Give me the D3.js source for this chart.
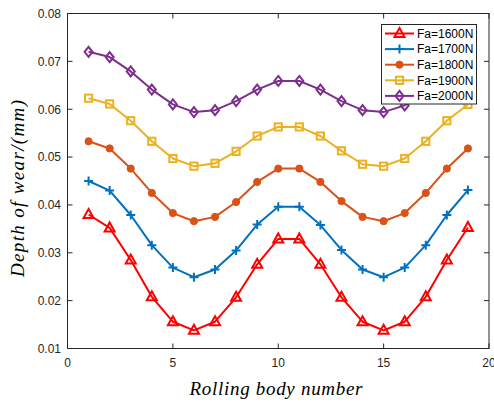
<!DOCTYPE html>
<html>
<head>
<meta charset="utf-8">
<script src="https://cdn.jsdelivr.net/npm/d3@7"></script>
<style>
  body { margin: 0; background: #fff; }
  svg { display: block; }
</style>
</head>
<body>
<div id="chart"></div>
<script>
// rolling body index 1..19
const bodies = d3.range(1, 20)
const xTicks = [0, 5, 10, 15, 20]
const yTicks = [0.01, 0.02, 0.03, 0.04, 0.05, 0.06, 0.07, 0.08]
const seriesNames = ["Fa=1600N", "Fa=1700N", "Fa=1800N", "Fa=1900N", "Fa=2000N"]

const wear1600 = [0.0380, 0.0352, 0.0285, 0.0208, 0.0156, 0.0138, 0.0156, 0.0207, 0.0276, 0.0329, 0.0329, 0.0276, 0.0207, 0.0156, 0.0138, 0.0156, 0.0208, 0.0285, 0.0353]
const wear1700 = [0.0450, 0.0430, 0.0379, 0.0316, 0.0269, 0.0249, 0.0265, 0.0305, 0.0359, 0.0396, 0.0396, 0.0358, 0.0306, 0.0265, 0.0249, 0.0269, 0.0316, 0.0379, 0.0431]
const wear1800 = [0.0533, 0.0518, 0.0476, 0.0425, 0.0383, 0.0366, 0.0375, 0.0406, 0.0448, 0.0476, 0.0476, 0.0448, 0.0408, 0.0375, 0.0366, 0.0383, 0.0425, 0.0476, 0.0518]
const wear1900 = [0.0623, 0.0611, 0.0576, 0.0533, 0.0497, 0.0481, 0.0487, 0.0512, 0.0544, 0.0563, 0.0563, 0.0544, 0.0513, 0.0485, 0.0481, 0.0497, 0.0533, 0.0576, 0.0610]
const wear2000 = [0.0720, 0.0709, 0.0679, 0.0641, 0.0610, 0.0594, 0.0598, 0.0617, 0.0641, 0.0659, 0.0659, 0.0641, 0.0617, 0.0598, 0.0594, 0.0608, 0.0641, 0.0679, 0.0709]

const colors = ["#FF0000", "#0072BD", "#D95319", "#EDB120", "#7E2F8E"]
const markers = ["triangle", "plus", "circle", "square", "diamond"]
const allSeries = [wear1600, wear1700, wear1800, wear1900, wear2000]

const W = 494, H = 403
const plotL = 67.5, plotR = 489, plotT = 13.5, plotB = 348.5
const axisColor = "#262626"

const svg = d3.select("#chart").append("svg")
    .attr("width", W)
    .attr("height", H)

const x = d3.scaleLinear().domain([0, 20]).range([plotL, plotR])
const y = d3.scaleLinear().domain([0.01, 0.08]).range([plotB, plotT])

// tick marks pointing inward, on all four sides
const tickLen = 5
const ticksG = svg.append("g").attr("stroke", axisColor).attr("stroke-width", 1)
xTicks.forEach(t => {
    ticksG.append("line").attr("x1", x(t)).attr("x2", x(t)).attr("y1", plotB).attr("y2", plotB - tickLen)
    ticksG.append("line").attr("x1", x(t)).attr("x2", x(t)).attr("y1", plotT).attr("y2", plotT + tickLen)
})
yTicks.forEach(t => {
    ticksG.append("line").attr("x1", plotL).attr("x2", plotL + tickLen).attr("y1", y(t)).attr("y2", y(t))
    ticksG.append("line").attr("x1", plotR).attr("x2", plotR - tickLen).attr("y1", y(t)).attr("y2", y(t))
})

// tick labels
const tickFont = "'Liberation Sans', Arial, sans-serif"
svg.append("g").selectAll("text")
    .data(xTicks)
    .enter()
    .append("text")
    .attr("x", d => x(d))
    .attr("y", 367)
    .attr("text-anchor", "middle")
    .attr("font-family", tickFont)
    .attr("font-size", 12)
    .attr("fill", axisColor)
    .text(d => d)

svg.append("g").selectAll("text")
    .data(yTicks)
    .enter()
    .append("text")
    .attr("x", 61)
    .attr("y", d => y(d) + 4.3)
    .attr("text-anchor", "end")
    .attr("font-family", tickFont)
    .attr("font-size", 12)
    .attr("fill", axisColor)
    .text(d => d3.format(".2f")(d))

// axis titles (latex-style italic, letter-spaced to the reference width)
const titleFont = "'Liberation Serif', 'Times New Roman', serif"
svg.append("text")
    .attr("x", 276)
    .attr("y", 395)
    .attr("text-anchor", "middle")
    .attr("font-family", titleFont)
    .attr("font-style", "italic")
    .attr("font-size", 19)
    .attr("textLength", 173)
    .attr("lengthAdjust", "spacing")
    .attr("fill", "#000")
    .text("Rolling body number")

svg.append("text")
    .attr("transform", "translate(24,188.5) rotate(-90)")
    .attr("text-anchor", "middle")
    .attr("font-family", titleFont)
    .attr("font-style", "italic")
    .attr("font-size", 19)
    .attr("textLength", 177)
    .attr("lengthAdjust", "spacing")
    .attr("fill", "#000")
    .text("Depth of wear/(mm)")

const drawMarker = (g, type, color) => {
    if (type === "triangle") {
        g.append("path").attr("d", "M0,-5.5L5,3.5L-5,3.5Z")
            .attr("fill", "none").attr("stroke", color).attr("stroke-width", 2)
    } else if (type === "plus") {
        g.append("path").attr("d", "M-4.5,0H4.5M0,-4.5V4.5")
            .attr("fill", "none").attr("stroke", color).attr("stroke-width", 2)
    } else if (type === "circle") {
        g.append("circle").attr("r", 3.6)
            .attr("fill", color).attr("stroke", color).attr("stroke-width", 1)
    } else if (type === "square") {
        g.append("rect").attr("x", -3.6).attr("y", -3.6).attr("width", 7.2).attr("height", 7.2)
            .attr("fill", "none").attr("stroke", color).attr("stroke-width", 2)
    } else if (type === "diamond") {
        g.append("path").attr("d", "M0,-5L4,0L0,5L-4,0Z")
            .attr("fill", "none").attr("stroke", color).attr("stroke-width", 2)
    }
}

// lines and markers
const line = d3.line()
    .x((d, i) => x(bodies[i]))
    .y(d => y(d))

allSeries.forEach((vals, k) => {
    const g = svg.append("g")
    g.append("path")
        .datum(vals)
        .attr("d", line)
        .attr("fill", "none")
        .attr("stroke", colors[k])
        .attr("stroke-width", 2)
        .attr("stroke-linejoin", "round")

    vals.forEach((v, i) => {
        const mg = g.append("g").attr("transform", "translate(" + x(bodies[i]) + "," + y(v) + ")")
        drawMarker(mg, markers[k], colors[k])
    })
})

// frame
svg.append("rect")
    .attr("x", plotL)
    .attr("y", plotT)
    .attr("width", plotR - plotL)
    .attr("height", plotB - plotT)
    .attr("fill", "none")
    .attr("stroke", axisColor)
    .attr("stroke-width", 1)

// legend
const lg = svg.append("g")
lg.append("rect")
    .attr("x", 381.5)
    .attr("y", 24.5)
    .attr("width", 95)
    .attr("height", 79.5)
    .attr("fill", "#fff")
    .attr("stroke", axisColor)
    .attr("stroke-width", 1)

seriesNames.forEach((name, k) => {
    const ly = 33.5 + k * 15.6
    lg.append("line")
        .attr("x1", 385).attr("x2", 414)
        .attr("y1", ly).attr("y2", ly)
        .attr("stroke", colors[k])
        .attr("stroke-width", 2)
    const mg = lg.append("g").attr("transform", "translate(399.5," + ly + ")")
    drawMarker(mg, markers[k], colors[k])
    lg.append("text")
        .attr("x", 417)
        .attr("y", ly + 4.3)
        .attr("font-family", tickFont)
        .attr("font-size", 12)
        .attr("fill", "#000")
        .text(name)
})
</script>
</body>
</html>
